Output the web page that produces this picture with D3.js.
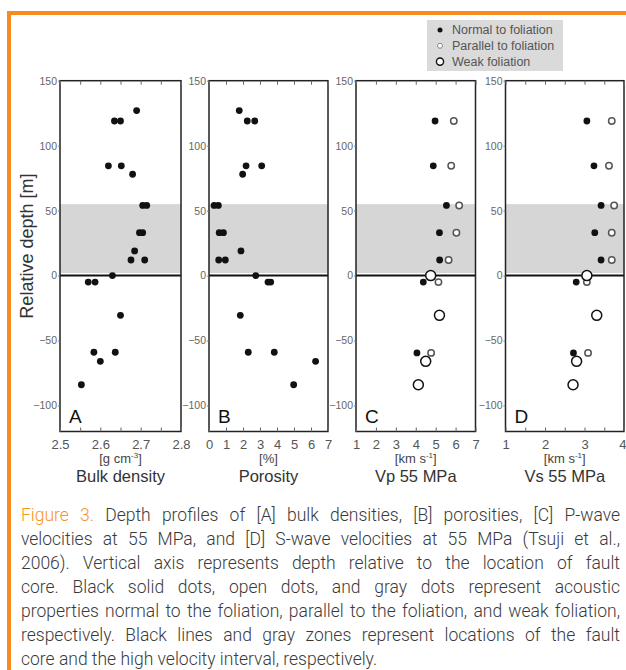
<!DOCTYPE html>
<html>
<head>
<meta charset="utf-8">
<script src="https://cdn.jsdelivr.net/npm/d3@7"></script>
<style>
  body { margin: 0; background: #fff; }
  #wrap { position: relative; width: 626px; height: 670px; overflow: hidden; }
  #caption { position: absolute; left: 21px; top: 503px; width: 599px; font-family: Roboto, "Liberation Sans", sans-serif; font-weight: 300; font-size: 17.5px; line-height: 24px; color: #3a3a3a; }
  #caption div { text-align: justify; text-align-last: justify; }
  #caption div.last { text-align-last: left; }
  #caption .fig { color: #f7941d; }
</style>
</head>
<body>
<div id="wrap">
  <svg id="chart" width="626" height="670"></svg>
  <div id="caption"></div>
</div>
<script>
// samples for density / porosity (same depths)
const depthAB = [127, 119, 119, 84.5, 84.5, 78, 54, 54, 33, 33, 19, 12, 12, 0, -5, -5, -30.6, -59, -59, -66, -84];
const density = [2.69, 2.635, 2.65, 2.62, 2.652, 2.68, 2.705, 2.715, 2.697, 2.705, 2.685, 2.676, 2.71, 2.63, 2.57, 2.587, 2.65, 2.584, 2.637, 2.60, 2.553];
const porosity = [1.78, 2.25, 2.69, 2.18, 3.1, 1.98, 0.3, 0.55, 0.6, 0.85, 1.88, 0.57, 0.96, 2.75, 3.47, 3.63, 1.84, 2.31, 3.84, 6.27, 4.98];

// velocity samples
const depthFol = [119, 84.5, 54, 33, 12, -5, -59.5];
const depthWeak = [0, -30.6, -66, -84];
const vpNormal = [4.97, 4.88, 5.54, 5.19, 5.2, 4.38, 4.06];
const vpParallel = [5.91, 5.78, 6.18, 6.04, 5.65, 5.14, 4.77];
const vpWeak = [4.75, 5.19, 4.5, 4.13];
const vsNormal = [3.06, 3.24, 3.42, 3.26, 3.42, 2.79, 2.72];
const vsParallel = [3.69, 3.62, 3.75, 3.69, 3.69, 3.06, 3.09];
const vsWeak = [3.06, 3.31, 2.8, 2.71];

const depthTicks = [150, 100, 50, 0, -50, -100];
const band = [2, 55]; // high velocity interval
const legendLabels = ["Normal to foliation", "Parallel to foliation", "Weak foliation"];

const captionLines = [
  "Depth profiles of [A] bulk densities, [B] porosities, [C] P-wave",
  "velocities at 55 MPa, and [D] S-wave velocities at 55 MPa (Tsuji et al.,",
  "2006). Vertical axis represents depth relative to the location of fault",
  "core. Black solid dots, open dots, and gray dots represent acoustic",
  "properties normal to the foliation, parallel to the foliation, and weak foliation,",
  "respectively. Black lines and gray zones represent locations of the fault",
  "core and the high velocity interval, respectively."
];

const zip = (xs, ds) => xs.map((v, i) => ({ v, d: ds[i] }));

const panels = [
  { letter: "A", left: 60, width: 121, domain: [2.5, 2.8], labels: [2.5, 2.6, 2.7, 2.8], minor: d3.range(2.5, 2.801, 0.05), fmt: d3.format(".1f"),
    unit: ["[g cm", "-3", "]"], title: "Bulk density",
    series: [{ kind: "normal", data: zip(density, depthAB) }] },
  { letter: "B", left: 209, width: 119, domain: [0, 7], labels: d3.range(0, 8), minor: d3.range(0, 8), fmt: d3.format("d"),
    unit: ["[%]", "", ""], title: "Porosity",
    series: [{ kind: "normal", data: zip(porosity, depthAB) }] },
  { letter: "C", left: 356, width: 119.5, domain: [1, 7], labels: d3.range(1, 8), minor: d3.range(1, 8), fmt: d3.format("d"),
    unit: ["[km s", "-1", "]"], title: "Vp 55 MPa",
    series: [{ kind: "parallel", data: zip(vpParallel, depthFol) }, { kind: "normal", data: zip(vpNormal, depthFol) }, { kind: "weak", data: zip(vpWeak, depthWeak) }] },
  { letter: "D", left: 505.5, width: 118.5, domain: [1, 4], labels: [1, 2, 3, 4], minor: d3.range(1, 4.01, 0.5), fmt: d3.format("d"),
    unit: ["[km s", "-1", "]"], title: "Vs 55 MPa",
    series: [{ kind: "parallel", data: zip(vsParallel, depthFol) }, { kind: "normal", data: zip(vsNormal, depthFol) }, { kind: "weak", data: zip(vsWeak, depthWeak) }] }
];

const marker = {
  normal: { r: 3.4, fill: "#111", stroke: "none", sw: 0 },
  parallel: { r: 3.2, fill: "#fff", stroke: "#555", sw: 1.5 },
  weak: { r: 5, fill: "#fff", stroke: "#111", sw: 1.5 }
};

const svg = d3.select("#chart");
const yTop = 80.7, yBot = 431.5;
const y = d3.scaleLinear().domain([-120, 150]).range([yBot, yTop]);

// orange frame
svg.append("rect").attr("x", 7).attr("y", 11).attr("width", 626).attr("height", 4).attr("fill", "#f68b1f");
svg.append("rect").attr("x", 7).attr("y", 11).attr("width", 4).attr("height", 670).attr("fill", "#f68b1f");

panels.forEach(p => {
  const x = d3.scaleLinear().domain(p.domain).range([p.left, p.left + p.width]);
  const g = svg.append("g");

  g.append("rect").attr("x", p.left).attr("y", y(band[1])).attr("width", p.width).attr("height", y(band[0]) - y(band[1])).attr("fill", "#d6d6d6");
  g.append("line").attr("x1", p.left).attr("x2", p.left + p.width).attr("y1", y(0)).attr("y2", y(0)).attr("stroke", "#111").attr("stroke-width", 2);

  p.series.forEach(s => {
    const m = marker[s.kind];
    g.selectAll(null).data(s.data).enter().append("circle")
      .attr("cx", d => x(d.v)).attr("cy", d => y(d.d)).attr("r", m.r)
      .attr("fill", m.fill).attr("stroke", m.stroke).attr("stroke-width", m.sw);
  });

  g.append("rect").attr("x", p.left).attr("y", yTop).attr("width", p.width).attr("height", yBot - yTop)
    .attr("fill", "none").attr("stroke", "#222").attr("stroke-width", 1.5);

  // inward minor ticks top and bottom
  const topAx = g.append("g").attr("transform", `translate(0,${yTop})`).call(d3.axisTop(x).tickValues(p.minor).tickSize(-4).tickFormat(""));
  const botAx = g.append("g").attr("transform", `translate(0,${yBot})`).call(d3.axisBottom(x).tickValues(p.minor).tickSize(-4).tickFormat(""));
  [topAx, botAx].forEach(a => { a.select(".domain").remove(); a.selectAll("line").attr("stroke", "#666"); });

  const lab = g.append("g").attr("transform", `translate(0,${yBot})`).call(d3.axisBottom(x).tickValues(p.labels).tickSize(0).tickPadding(8).tickFormat(p.fmt));
  lab.select(".domain").remove();
  lab.selectAll("text").attr("font-family", "Liberation Sans, Arial, sans-serif").attr("font-size", 13).attr("fill", "#555");
  // keep the last label of the right-most panel inside the page
  lab.selectAll("text").filter(d => x(d) > 620).attr("text-anchor", "end").attr("dx", 2);

  const ya = g.append("g").attr("transform", `translate(${p.left},0)`).call(d3.axisLeft(y).tickValues(depthTicks).tickSize(2).tickPadding(1));
  ya.select(".domain").remove();
  ya.selectAll("line").attr("stroke", "#777");
  ya.selectAll("text").attr("font-family", "Liberation Sans, Arial, sans-serif").attr("font-size", 10.5).attr("fill", "#666");

  const cx = p.left + p.width / 2;
  const u = g.append("text").attr("x", cx).attr("y", 462.5).attr("text-anchor", "middle")
    .attr("font-family", "Liberation Sans, Arial, sans-serif").attr("font-size", 13).attr("fill", "#444");
  u.append("tspan").text(p.unit[0]);
  if (p.unit[1]) u.append("tspan").attr("font-size", 8).attr("dy", -5).text(p.unit[1]);
  u.append("tspan").attr("dy", p.unit[1] ? 5 : 0).text(p.unit[2]);

  g.append("text").attr("x", cx).attr("y", 482).attr("text-anchor", "middle")
    .attr("font-family", "Liberation Sans, Arial, sans-serif").attr("font-size", 16.5).attr("fill", "#333").text(p.title);

  g.append("text").attr("x", p.left + 9).attr("y", 423).attr("font-family", "Liberation Sans, Arial, sans-serif")
    .attr("font-size", 19).attr("fill", "#111").text(p.letter);
});

svg.append("text").attr("transform", `translate(33,${(yTop + yBot) / 2 - 10}) rotate(-90)`).attr("text-anchor", "middle")
  .attr("font-family", "Liberation Sans, Arial, sans-serif").attr("font-size", 18).attr("fill", "#333").text("Relative depth [m]");

// legend
const lg = svg.append("g");
lg.append("rect").attr("x", 427).attr("y", 20).attr("width", 136).attr("height", 51).attr("fill", "#dadada");
const legendMarks = [
  { r: 2.5, fill: "#111", stroke: "none", sw: 0 },
  { r: 2.5, fill: "#fff", stroke: "#888", sw: 1 },
  { r: 3.6, fill: "#fff", stroke: "#111", sw: 1.4 }
];
legendLabels.forEach((t, i) => {
  const ly = 30 + i * 15.8;
  const m = legendMarks[i];
  lg.append("circle").attr("cx", 440).attr("cy", ly).attr("r", m.r).attr("fill", m.fill).attr("stroke", m.stroke).attr("stroke-width", m.sw);
  lg.append("text").attr("x", 452).attr("y", ly + 4.3).attr("font-family", "Liberation Sans, Arial, sans-serif")
    .attr("font-size", 12.5).attr("fill", "#555").text(t);
});

// caption
const cap = d3.select("#caption");
captionLines.forEach((line, i) => {
  const div = cap.append("div").classed("last", i === captionLines.length - 1);
  if (i === 0) {
    div.append("span").attr("class", "fig").text("Figure 3. ");
  }
  div.append("span").text(line);
});
</script>
</body>
</html>
